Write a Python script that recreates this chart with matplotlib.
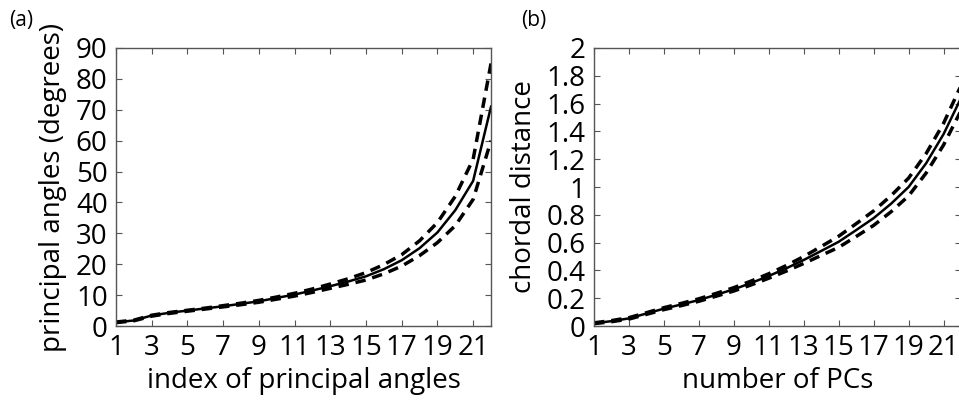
import numpy as np
import matplotlib
matplotlib.use("Agg")
import matplotlib.pyplot as plt

plt.rcParams['font.family'] = ['Open Sans', 'DejaVu Sans']

# panel (a): principal angles, mean and bounds
idx = np.arange(1, 23)
ang_mean = [1.2, 1.8, 3.4, 4.3, 5.0, 5.7, 6.4, 7.2, 8.0, 9.1, 10.2, 11.5, 12.9, 14.4,
            16.1, 18.4, 21.3, 25.2, 30.3, 37.5, 47.0, 71.0]
ang_upper = [1.3, 1.9, 3.5, 4.4, 5.1, 5.8, 6.6, 7.4, 8.3, 9.4, 10.6, 12.0, 13.6, 15.3,
             17.3, 19.9, 23.1, 27.6, 33.5, 42.0, 54.0, 85.0]
ang_lower = [1.1, 1.7, 3.2, 4.1, 4.8, 5.5, 6.2, 6.9, 7.7, 8.7, 9.7, 10.9, 12.2, 13.5,
             14.9, 16.9, 19.4, 22.8, 27.0, 32.5, 41.0, 60.0]

# panel (b): chordal distance vs number of PCs
npcs = np.arange(1, 23)
cd_mean = [0.02, 0.035, 0.055, 0.09, 0.125, 0.155, 0.187, 0.225, 0.264, 0.31, 0.36,
           0.415, 0.475, 0.54, 0.606, 0.69, 0.776, 0.88, 1.0, 1.17, 1.38, 1.64]
cd_upper = [0.023, 0.039, 0.06, 0.096, 0.132, 0.163, 0.196, 0.235, 0.276, 0.324, 0.376,
            0.435, 0.5, 0.572, 0.646, 0.736, 0.828, 0.938, 1.064, 1.24, 1.458, 1.73]
cd_lower = [0.017, 0.031, 0.05, 0.084, 0.118, 0.147, 0.178, 0.215, 0.252, 0.296, 0.344,
            0.395, 0.45, 0.508, 0.566, 0.644, 0.724, 0.822, 0.936, 1.1, 1.302, 1.55]

fig = plt.figure(figsize=(9.59, 4.05), dpi=100)
ax1 = fig.add_axes([0.121, 0.195, 0.391, 0.6865])
ax2 = fig.add_axes([0.6194, 0.195, 0.3827, 0.6865])

fs = 20


def style(ax):
    for s in ax.spines.values():
        s.set_color('#555555')
        s.set_linewidth(1.0)
    ax.tick_params(direction='in', top=True, right=True, length=4, width=0.8,
                   color='#555555', labelsize=fs, pad=6)
    ax.set_xticks(np.arange(1, 22, 2))


ax1.plot(idx, ang_mean, color='black', lw=1.8)
ax1.plot(idx, ang_upper, color='black', lw=2.5, dashes=(3, 2))
ax1.plot(idx, ang_lower, color='black', lw=2.5, dashes=(3, 2))
ax1.set_xlim(1, 22)
ax1.set_ylim(0, 90)
ax1.set_yticks(np.arange(0, 91, 10))
style(ax1)
ax1.set_xlabel('index of principal angles', fontsize=fs, labelpad=3)
ax1.set_ylabel('principal angles (degrees)', fontsize=fs, labelpad=6)

ax2.plot(npcs, cd_mean, color='black', lw=1.8)
ax2.plot(npcs, cd_upper, color='black', lw=2.5, dashes=(3, 2))
ax2.plot(npcs, cd_lower, color='black', lw=2.5, dashes=(3, 2))
ax2.set_xlim(1, 22)
ax2.set_ylim(0, 2)
ax2.set_yticks(np.arange(0, 2.01, 0.2))
ax2.set_yticklabels(['0', '0.2', '0.4', '0.6', '0.8', '1', '1.2', '1.4', '1.6', '1.8', '2'])
style(ax2)
ax2.set_xlabel('number of PCs', fontsize=fs, labelpad=3)
ax2.set_ylabel('chordal distance', fontsize=fs, labelpad=6)

fig.text(0.01, 0.95, '(a)', fontsize=15, va='center', ha='left')
fig.text(0.543, 0.95, '(b)', fontsize=15, va='center', ha='left')

fig.savefig('out.png', dpi=100)
